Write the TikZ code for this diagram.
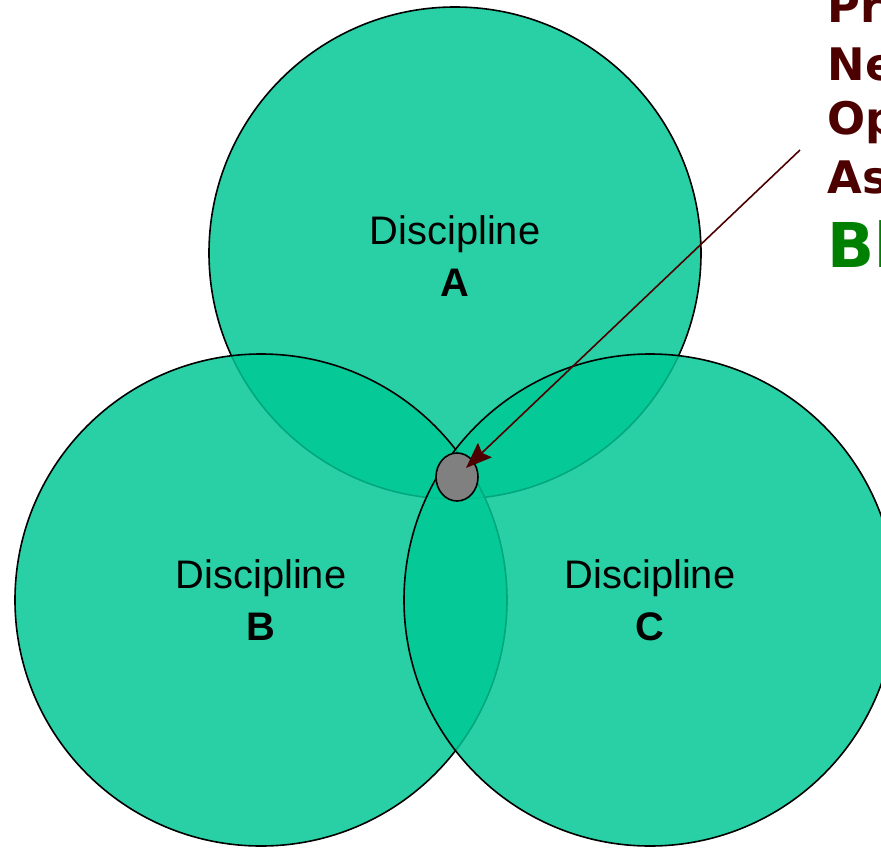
\documentclass[tikz,border=0pt]{standalone}
\usepackage{fontspec}
\setmainfont{Liberation Sans}
\newfontfamily\heavyfont{DejaVu Sans}[BoldFont={DejaVu Sans Bold}]
\usetikzlibrary{shapes.geometric,arrows.meta}
\definecolor{disc}{RGB}{0,200,150}
\definecolor{darkred}{RGB}{77,0,0}
\definecolor{bgreen}{RGB}{0,128,0}
\definecolor{spot}{RGB}{128,128,128}
\tikzset{
  disccircle/.style={circle, draw=black, line width=1.6bp, fill=disc, fill opacity=0.84, draw opacity=1, minimum size=492bp, inner sep=0pt},
  disclabel/.style={align=center, font=\fontsize{40}{52}\selectfont, text=black},
  callout/.style={anchor=base west, font=\heavyfont\fontsize{45}{50}\selectfont\bfseries, text=darkred},
  callgreen/.style={anchor=base west, font=\heavyfont\fontsize{62}{66}\selectfont\bfseries, text=bgreen},
  pointer/.style={draw=darkred, line width=1.6bp, -{Stealth[length=26bp,width=20bp,inset=4bp]}}
}
\begin{document}
\begin{tikzpicture}[x=1bp,y=-1bp]
\useasboundingbox (0,0) rectangle (881,848);
\clip (0,0) rectangle (881,848);
\fill[white] (0,0) rectangle (881,848);
\node[disccircle] (A) at (455,253) {};
\node[disccircle] (B) at (261,600) {};
\node[disccircle] (C) at (650,600) {};
\node[ellipse, draw=black, line width=1.6bp, fill=spot, minimum width=42bp, minimum height=48bp, inner sep=0pt] (S) at (457,477) {};
\node[disclabel] (LA) at (455,256) {Discipline\\\textbf{A}};
\node[disclabel] (LB) at (261,600) {Discipline\\\textbf{B}};
\node[disclabel] (LC) at (650,600) {Discipline\\\textbf{C}};
\coordinate (P) at (800,150);
\draw[pointer] (P) -- (466,468);
\node[callout] (T1) at (824,22) {Pr};
\node[callout] (T2) at (824,80) {Ne};
\node[callout] (T3) at (824,134) {Op};
\node[callout] (T4) at (824,193) {As};
\node[callgreen] (T5) at (824,267) {Bl};
\end{tikzpicture}
\end{document}
